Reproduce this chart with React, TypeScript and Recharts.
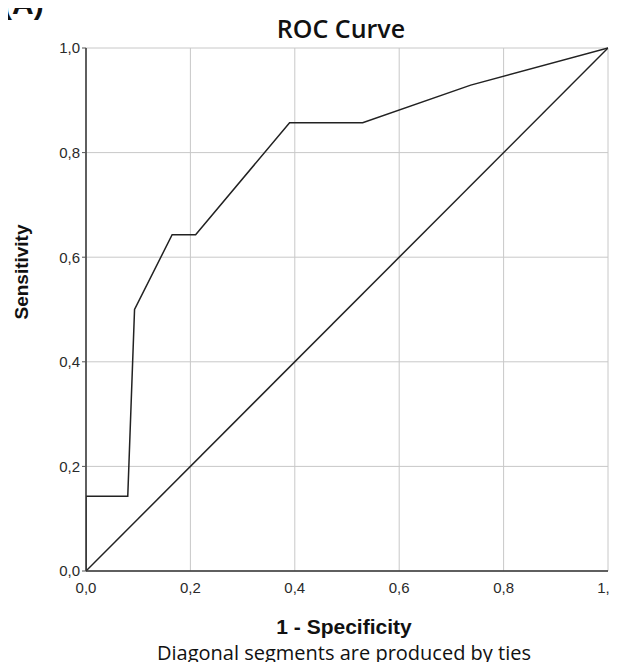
import { LineChart, Line, XAxis, YAxis, CartesianGrid } from "recharts";

// ROC curve points
const rocFpr = [0, 0, 0.08, 0.093, 0.165, 0.21, 0.39, 0.53, 0.737, 1];
const rocTpr = [0, 0.143, 0.143, 0.5, 0.643, 0.643, 0.857, 0.857, 0.929, 1];

// reference diagonal
const refFpr = [0, 1];
const refTpr = [0, 1];

const tickValues = [0, 0.2, 0.4, 0.6, 0.8, 1];

const rocData = rocFpr.map((x, i) => ({ x, y: rocTpr[i] }));
const refData = refFpr.map((x, i) => ({ x, y: refTpr[i] }));

const fmt = (v: number) => v.toFixed(1).replace(".", ",");

const tickStyle = { fontSize: 15, fill: "#2a2a2a", fontFamily: "Liberation Sans, Arial, sans-serif" };

export default function App() {
  return (
    <div style={{ position: "relative", width: 617, height: 670, margin: -8, overflow: "hidden", background: "#fff" }}>
      <div
        style={{
          position: "absolute",
          left: 2,
          top: -13,
          fontFamily: "Liberation Sans, Arial, sans-serif",
          fontWeight: 700,
          fontSize: 30,
          color: "#111",
        }}
      >
        (A)
      </div>
      <div
        style={{
          position: "absolute",
          left: 0,
          width: 682,
          top: 15,
          lineHeight: "26px",
          textAlign: "center",
          fontFamily: "Open Sans, sans-serif",
          fontWeight: 600,
          fontSize: 25,
          color: "#111",
        }}
      >
        ROC Curve
      </div>
      <LineChart
        width={617}
        height={670}
        margin={{ top: 48, right: 9, left: 0, bottom: 69 }}
      >
        <CartesianGrid stroke="#c8c8c8" strokeWidth={1} />
        <XAxis
          dataKey="x"
          type="number"
          domain={[0, 1]}
          ticks={tickValues}
          tickFormatter={fmt}
          tick={tickStyle}
          tickLine={false}
          tickMargin={5}
          axisLine={{ stroke: "#333", strokeWidth: 1.5 }}
          height={30}
          allowDataOverflow
        />
        <YAxis
          dataKey="y"
          type="number"
          domain={[0, 1]}
          ticks={tickValues}
          tickFormatter={fmt}
          tick={tickStyle}
          tickSize={4}
          tickLine={{ stroke: "#555" }}
          tickMargin={2}
          axisLine={{ stroke: "#333", strokeWidth: 1.5 }}
          width={86}
        />
        <Line
          data={refData}
          dataKey="y"
          type="linear"
          stroke="#222"
          strokeWidth={1.5}
          dot={false}
          isAnimationActive={false}
        />
        <Line
          data={rocData}
          dataKey="y"
          type="linear"
          stroke="#222"
          strokeWidth={1.5}
          dot={false}
          isAnimationActive={false}
        />
      </LineChart>
      <div
        style={{
          position: "absolute",
          left: 22,
          top: 272,
          transform: "translate(-50%, -50%) rotate(-90deg)",
          fontFamily: "Liberation Sans, Arial, sans-serif",
          fontWeight: 700,
          fontSize: 19,
          color: "#111",
          whiteSpace: "nowrap",
        }}
      >
        Sensitivity
      </div>
      <div
        style={{
          position: "absolute",
          left: 0,
          width: 688,
          top: 616,
          lineHeight: "21px",
          textAlign: "center",
          fontFamily: "Liberation Sans, Arial, sans-serif",
          fontWeight: 700,
          fontSize: 21,
          color: "#111",
        }}
      >
        1 - Specificity
      </div>
      <div
        style={{
          position: "absolute",
          left: 0,
          width: 688,
          top: 643,
          lineHeight: "20px",
          textAlign: "center",
          fontFamily: "Open Sans, sans-serif",
          fontSize: 20,
          color: "#111",
          whiteSpace: "nowrap",
        }}
      >
        Diagonal segments are produced by ties
      </div>
    </div>
  );
}
